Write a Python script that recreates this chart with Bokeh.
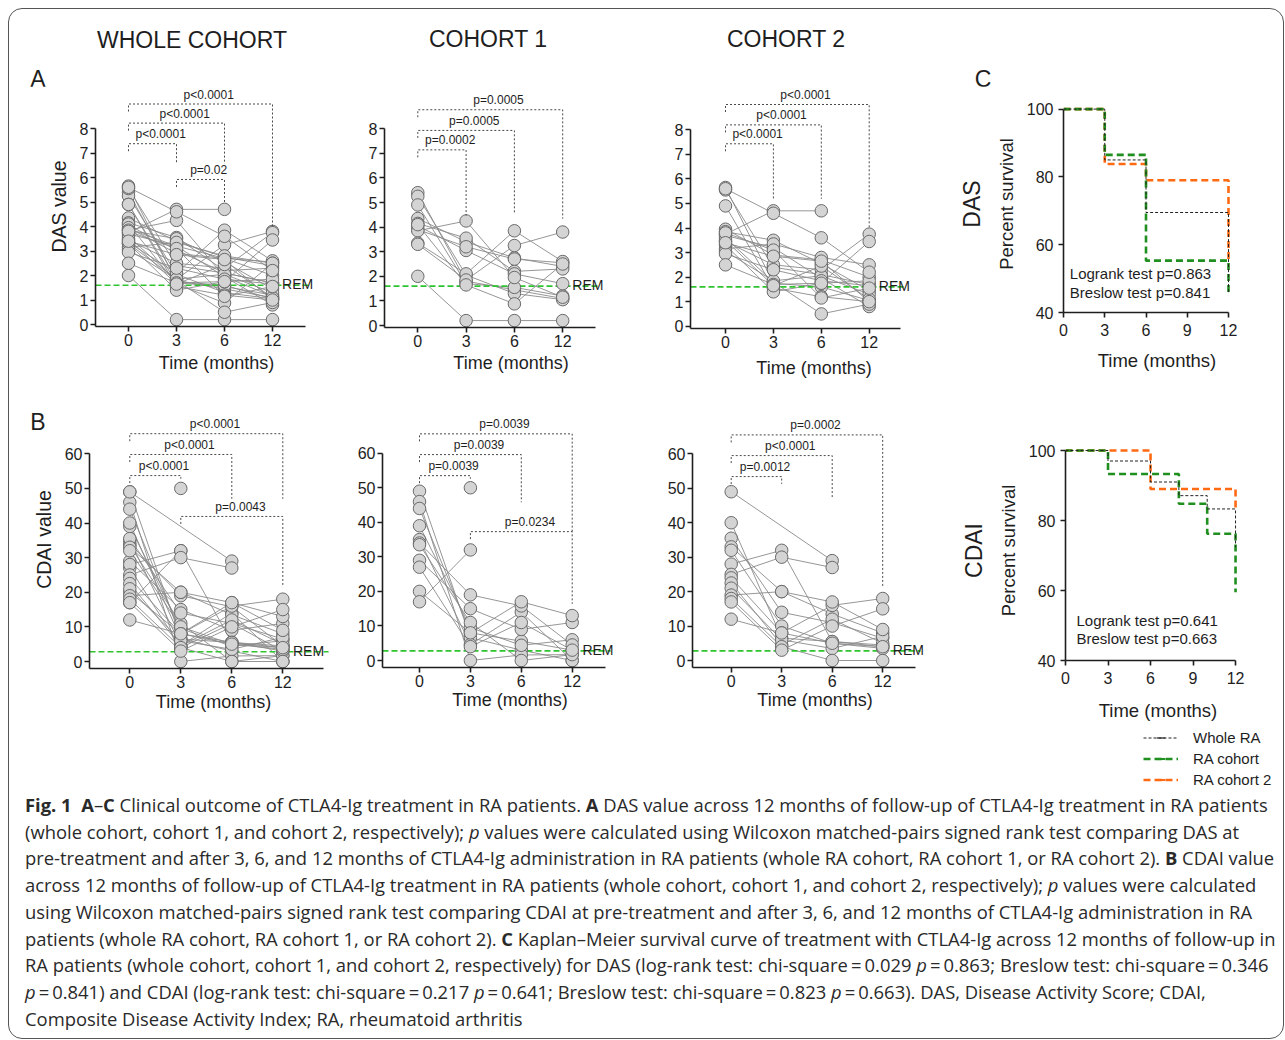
import numpy as np
from bokeh.plotting import figure
from bokeh.models import FixedTicker, Legend, LegendItem, LinearAxis, Div, Spacer
from bokeh.layouts import row, column
from bokeh.embed import file_html
from bokeh.resources import INLINE
from bokeh.core.properties import value

nan = np.nan
FONT = "Liberation Sans"

# ---------------- data ----------------
time_labels = ["0", "3", "6", "12"]

# DAS, cohort 1 (one entry per patient)
das_c1_m0 = [5.40, 5.25, 4.90, 4.35, 4.15, 4.05, 3.90, 3.85, 3.35, 3.30, 2.00, 4.10]
das_c1_m3 = [1.80, 2.05, 1.70, 3.40, 3.55, 3.05, 3.20, 4.25, 2.10, 1.85, 0.20, 1.65]
das_c1_m6 = [1.45, 1.30, 1.55, 2.75, 2.20, 2.10, 2.70, 1.95, 3.85, 3.25, 0.20, 0.88]
das_c1_m12 = [1.10, 1.05, 1.20, 2.40, 2.30, 1.70, 2.55, 1.15, 2.60, 3.80, 0.20, 2.50]

# DAS, cohort 2
das_c2_m0 = [5.65, 5.55, 4.90, 3.95, 3.85, 3.75, 3.70, 3.60, 3.45, 3.30, 3.15, 3.05, 2.95, 2.50, 5.60, 3.50, 3.80, 3.40]
das_c2_m3 = [1.75, 2.40, 1.55, 2.90, 3.50, 4.70, 3.20, 1.80, 2.50, 1.40, 3.35, 1.85, 2.30, 1.70, 4.60, 1.65, 3.10, 2.85]
das_c2_m6 = [1.60, 2.10, 1.20, 2.70, 2.55, 4.70, 1.95, 0.50, 2.30, 1.75, 2.80, 2.05, 1.85, 1.75, 3.60, 2.45, 1.15, 2.65]
das_c2_m12 = [1.05, 1.70, 1.00, 2.00, 1.45, nan, 0.80, 0.90, 3.75, 3.45, 2.50, 1.30, 1.65, 1.85, 2.20, 1.10, 1.55, 1.00]

# CDAI, cohort 1
cdai_c1_m0 = [49, 46, 44, 39, 35, 34, 33.5, 29, 27, 20, 17, nan]
cdai_c1_m3 = [6.6, 0, 8, 9.5, 4.6, 19, 11, 15, 4, 8, 32, 50]
cdai_c1_m6 = [3.0, 1.6, 5.6, 4.4, 14, 15.8, 0, 9, 11, 17, nan, nan]
cdai_c1_m12 = [0, 1.7, 3.0, 6, 0, 4.5, 1.7, 11, 3, 13, nan, nan]

# CDAI, cohort 2
cdai_c2_m0 = [49, 40, 35.5, 33, 32, 28, 25, 24, 22.5, 21, 19, 18, 17, 12]
cdai_c2_m3 = [nan, 6.5, 14, 20, 10, 32, 30, 8, 4.5, 6, 20, 4, 3, 8]
cdai_c2_m6 = [29, 5.5, 11, 13.5, 5, 5.5, 27, 16, 12, 3.5, 17, 0, 10, 5]
cdai_c2_m12 = [nan, 4, 6.5, 8, 3.5, 4.5, nan, 18, 5, 7, 9, 0, 15, 4]

das_c1 = [das_c1_m0, das_c1_m3, das_c1_m6, das_c1_m12]
das_c2 = [das_c2_m0, das_c2_m3, das_c2_m6, das_c2_m12]
das_whole = [a + b for a, b in zip(das_c1, das_c2)]
cdai_c1 = [cdai_c1_m0, cdai_c1_m3, cdai_c1_m6, cdai_c1_m12]
cdai_c2 = [cdai_c2_m0, cdai_c2_m3, cdai_c2_m6, cdai_c2_m12]
cdai_whole = [a + b for a, b in zip(cdai_c1, cdai_c2)]

rem_das = 1.6
rem_cdai = 2.8

# comparisons: (from time index, to time index), p value text
cmp_das_whole = [(0, 1), (0, 2), (0, 3), (1, 2)]
p_das_whole = ["p<0.0001", "p<0.0001", "p<0.0001", "p=0.02"]
cmp_das_c1 = [(0, 1), (0, 2), (0, 3)]
p_das_c1 = ["p=0.0002", "p=0.0005", "p=0.0005"]
cmp_das_c2 = [(0, 1), (0, 2), (0, 3)]
p_das_c2 = ["p<0.0001", "p<0.0001", "p<0.0001"]
cmp_cdai_whole = [(0, 1), (0, 2), (0, 3), (1, 3)]
p_cdai_whole = ["p<0.0001", "p<0.0001", "p<0.0001", "p=0.0043"]
cmp_cdai_c1 = [(0, 1), (0, 2), (0, 3), (1, 3)]
p_cdai_c1 = ["p=0.0039", "p=0.0039", "p=0.0039", "p=0.0234"]
cmp_cdai_c2 = [(0, 1), (0, 2), (0, 3)]
p_cdai_c2 = ["p=0.0012", "p<0.0001", "p=0.0002"]

# Kaplan-Meier curves (percent survival)
km_das_whole_t = [0, 3, 6, 12]
km_das_whole_s = [100, 85.0, 69.5, 46.0]
km_das_c1_t = [0, 3, 6, 12]
km_das_c1_s = [100, 86.5, 55.3, 45.5]
km_das_c2_t = [0, 3, 6, 12]
km_das_c2_s = [100, 83.8, 79.0, 55.5]

km_cdai_whole_t = [0, 3, 6, 8, 10, 12]
km_cdai_whole_s = [100, 97.0, 91.0, 87.1, 83.3, 72.4]
km_cdai_c1_t = [0, 3, 8, 10, 12]
km_cdai_c1_s = [100, 93.3, 84.8, 76.2, 59.5]
km_cdai_c2_t = [0, 6, 12]
km_cdai_c2_s = [100, 89.0, 82.9]

km_names = ["Whole RA", "RA cohort", "RA cohort 2"]
km_das_stats = ["Logrank test p=0.863", "Breslow test p=0.841"]
km_cdai_stats = ["Logrank test p=0.641", "Breslow test p=0.663"]

# ---------------- layout helpers ----------------
COLS = [9, 340, 640, 940, 1283]
Y_HEAD, Y_ROW1, Y_ROW2, Y_LEG, Y_CAP, Y_END = 9, 86, 390, 727, 792, 1038
LEG_X = 1143
INK = "#1e1e1e"
KM_STYLES = [("#222222", 1.0, "3 2"), ("#1f8f1f", 2.6, "7 4"), ("#ff6a13", 2.6, "7 4")]


class Frame:
    def __init__(self, fx0, fx1, ry0, ry1, fl, fr, ft, fb, xpx, xval, dx, ypx, yval, ppu):
        self.fx0, self.fx1, self.ry0, self.ry1 = fx0, fx1, ry0, ry1
        self.fl, self.fr, self.ft, self.fb = round(fl), round(fr), round(ft), round(fb)
        self.xpx, self.xval, self.dx = xpx, xval, dx
        self.ypx, self.yval, self.ppu = ypx, yval, ppu

    def X(self, px):
        return self.xval + (px - self.xpx) / self.dx

    def Y(self, py):
        return self.yval + (self.ypx - py) / self.ppu

    def fig(self):
        p = figure(width=self.fx1 - self.fx0, height=self.ry1 - self.ry0,
                   x_range=(self.X(self.fl), self.X(self.fr)),
                   y_range=(self.Y(self.fb), self.Y(self.ft)),
                   min_border_left=self.fl - self.fx0, min_border_right=self.fx1 - self.fr,
                   min_border_top=self.ft - self.ry0, min_border_bottom=self.ry1 - self.fb,
                   output_backend="svg", toolbar_location=None, title=None)
        p.frame_align = False
        p.outline_line_color = None
        p.grid.visible = False
        p.background_fill_color = "white"
        p.border_fill_color = "white"
        return p


def style_axis(ax, label_size, standoff=2):
    ax.axis_line_width = 1.6
    ax.axis_line_color = INK
    ax.major_tick_line_width = 1.6
    ax.major_tick_line_color = INK
    ax.major_tick_out = 5
    ax.major_tick_in = 0
    ax.minor_tick_line_color = None
    ax.major_label_text_font = FONT
    ax.major_label_text_font_size = "16px"
    ax.major_label_text_color = INK
    ax.major_label_standoff = standoff
    ax.axis_label_text_font = FONT
    ax.axis_label_text_font_style = "normal"
    ax.axis_label_text_font_size = label_size
    ax.axis_label_text_color = INK


def scatter_panel(fr, series, pairs, plabels, tops, ends, rem, ymax, ystep, axis_end_px,
                  ylabel=None, xstand=0):
    p = fr.fig()
    xs_l, ys_l, px, py = [], [], [], []
    for i in range(len(series[0])):
        xx = [k for k in range(4) if not np.isnan(series[k][i])]
        yy = [series[k][i] for k in xx]
        if len(xx) > 1:
            xs_l.append(xx)
            ys_l.append(yy)
        px += xx
        py += yy
    p.multi_line(xs_l, ys_l, line_color="#8a8a8a", line_width=0.9)

    x_end_axis = fr.X(axis_end_px)
    p.line([fr.X(fr.fl), x_end_axis + 0.1], [rem, rem], line_color="#2fc42f",
           line_width=1.6, line_dash="6 3")
    p.text(x=[3.2], y=[rem], text=["REM"], text_font=value(FONT), text_font_size="14px",
           text_color=INK, text_align="left", text_baseline="alphabetic", y_offset=-1)

    p.scatter(px, py, size=12.5, fill_color="#d4d4d4", line_color="#6a6a6a", line_width=1)

    drop = 7.5 / fr.ppu
    bx, by, lx, ly = [], [], [], []
    for (i, j), top, end in zip(pairs, tops, ends):
        bx.append([i, i, j, j])
        by.append([top - drop, top, top, end])
        lx.append((i + j) / 2 + 0.17)
        ly.append(top + 9.5 / fr.ppu)
    p.multi_line(bx, by, line_color="#4a4a4a", line_width=1, line_dash="2 2")
    p.text(x=lx, y=ly, text=plabels, text_font=value(FONT), text_font_size="12px",
           text_color=INK, text_align="center", text_baseline="middle")

    style_axis(p.xaxis[0], "18px")
    style_axis(p.yaxis[0], "19.5px")
    p.xaxis.ticker = FixedTicker(ticks=[0, 1, 2, 3])
    p.xaxis.major_label_overrides = {i: t for i, t in enumerate(time_labels)}
    p.xaxis.bounds = (fr.X(fr.fl), x_end_axis)
    p.xaxis.axis_label = "Time (months)"
    p.xaxis.axis_label_standoff = xstand
    p.yaxis.ticker = FixedTicker(ticks=list(np.arange(0, ymax + ystep / 2, ystep)))
    p.yaxis.bounds = (fr.Y(fr.fb), ymax)
    if ylabel:
        p.yaxis.axis_label = ylabel
        p.yaxis.axis_label_standoff = 7
    return p


# ---------------- DAS row ----------------
fA1 = Frame(COLS[0], COLS[1], Y_ROW1, Y_ROW2, 95, 337, 86, 326, 128, 0, 48.0, 324, 0, 24.5)
a1 = scatter_panel(fA1, das_whole, cmp_das_whole, p_das_whole,
                   [7.38, 8.22, 9.0, 5.92], [6.56, 6.56, 3.97, 5.0],
                   rem_das, 8, 1, 305, ylabel="DAS value", xstand=4)

fA2 = Frame(COLS[1], COLS[2], Y_ROW1, Y_ROW2, 384, 637, 86, 327, 417.3, 0, 48.3, 325, 0, 24.6)
a2 = scatter_panel(fA2, das_c1, cmp_das_c1, p_das_c1,
                   [7.14, 7.93, 8.77], [4.47, 4.54, 4.34],
                   rem_das, 8, 1, 595, xstand=3)

fA3 = Frame(COLS[2], COLS[3], Y_ROW1, Y_ROW2, 690, 937, 86, 328, 725, 0, 47.9, 325.7, 0, 24.55)
a3 = scatter_panel(fA3, das_c2, cmp_das_c2, p_das_c2,
                   [7.43, 8.2, 9.03], [5.19, 5.19, 4.03],
                   rem_das, 8, 1, 900, xstand=7)

# ---------------- CDAI row ----------------
fB1 = Frame(COLS[0], COLS[1], Y_ROW2, Y_CAP, 89, 337, 410, 668, 129.3, 0, 51.0, 661, 0, 3.462)
b1 = scatter_panel(fB1, cdai_whole, cmp_cdai_whole, p_cdai_whole,
                   [53.7, 59.8, 65.8, 41.9], [52.8, 47.0, 47.0, 21.5],
                   rem_cdai, 60, 10, 323, ylabel="CDAI value", xstand=1)

fB2 = Frame(COLS[1], COLS[2], Y_ROW2, Y_CAP, 382, 637, 410, 667, 419, 0, 50.9, 660, 0, 3.455)
b2 = scatter_panel(fB2, cdai_c1, cmp_cdai_c1, p_cdai_c1,
                   [53.5, 59.6, 65.6, 37.3], [52.6, 45.8, 37.1, 16.4],
                   rem_cdai, 60, 10, 605, xstand=0)

fB3 = Frame(COLS[2], COLS[3], Y_ROW2, Y_CAP, 692, 937, 410, 667, 730.7, 0, 50.5, 660, 0, 3.444)
b3 = scatter_panel(fB3, cdai_c2, cmp_cdai_c2, p_cdai_c2,
                   [53.4, 59.5, 65.5], [51.3, 46.9, 21.3],
                   rem_cdai, 60, 10, 915, xstand=0)


# ---------------- Kaplan-Meier ----------------
def km_panel(fr, curves, stats, stat_x, stat_y, side_label, xstand):
    p = fr.fig()
    for (t, s), (col, lw, dash) in list(zip(curves, KM_STYLES))[::-1]:
        p.step(t, s, mode="after", line_color=col, line_width=lw, line_dash=dash)
    p.text(x=[stat_x, stat_x], y=stat_y, text=stats, text_font=value(FONT),
           text_font_size="15px", text_color=INK, text_align="left", text_baseline="middle")
    style_axis(p.xaxis[0], "18.5px", standoff=6)
    style_axis(p.yaxis[0], "18.5px", standoff=5)
    p.xaxis.ticker = FixedTicker(ticks=[0, 3, 6, 9, 12])
    p.xaxis.bounds = (0, 12)
    p.xaxis.axis_label = "Time (months)"
    p.xaxis.axis_label_standoff = xstand
    p.yaxis.ticker = FixedTicker(ticks=[40, 60, 80, 100])
    p.yaxis.bounds = (40, 100)
    p.yaxis.axis_label = "Percent survival"
    p.yaxis.axis_label_standoff = 7
    ax2 = LinearAxis(axis_label=side_label, ticker=FixedTicker(ticks=[]), bounds=(40, 100),
                     axis_line_color=None, major_tick_line_color=None,
                     minor_tick_line_color=None, major_tick_out=0, major_label_standoff=0,
                     major_label_text_font_size="0px", axis_label_standoff=8,
                     axis_label_text_font=FONT, axis_label_text_font_size="23px",
                     axis_label_text_font_style="normal", axis_label_text_color=INK)
    p.add_layout(ax2, "left")
    return p


km_das_curves = [(km_das_whole_t, km_das_whole_s), (km_das_c1_t, km_das_c1_s), (km_das_c2_t, km_das_c2_s)]
km_cdai_curves = [(km_cdai_whole_t, km_cdai_whole_s), (km_cdai_c1_t, km_cdai_c1_s), (km_cdai_c2_t, km_cdai_c2_s)]

fK1 = Frame(COLS[3], COLS[4], Y_ROW1, Y_ROW2, 1063, 1250, 95, 312, 1063, 0, 13.75, 312, 40, 3.39)
km1 = km_panel(fK1, km_das_curves, km_das_stats, fK1.X(1069.3),
               [fK1.Y(273.3), fK1.Y(291.7)], "DAS", xstand=11)

fK2 = Frame(COLS[3], COLS[4], Y_ROW2, Y_LEG, 1065, 1250, 440, 660, 1065, 0, 14.17, 660, 40, 3.5)
km2 = km_panel(fK2, km_cdai_curves, km_cdai_stats, fK2.X(1076),
               [fK2.Y(620), fK2.Y(638.3)], "CDAI", xstand=13)

# legend panel for the Kaplan-Meier curves: same curves and line styles, drawn
# through a 0..1 view window so only the legend keys are visible
leg = figure(width=COLS[4] - LEG_X, height=Y_CAP - Y_LEG, x_range=(0, 1), y_range=(0, 1),
             min_border=0, x_axis_type=None, y_axis_type=None, output_backend="svg",
             toolbar_location=None, title=None)
leg.frame_align = False
leg.outline_line_color = None
leg.grid.visible = False
leg_items = []
for name, (t, s), (c, w, d) in zip(km_names, km_cdai_curves, KM_STYLES):
    r_line = leg.line(t, s, line_color=c, line_width=w, line_dash=d)
    r_tick = leg.scatter(t, s, marker="dash", angle=np.pi / 2, size=7,
                         line_color=c, line_width=max(w * 0.8, 1.2))
    leg_items.append(LegendItem(label=name, renderers=[r_line, r_tick]))
legend = Legend(items=leg_items, location="top_left", padding=0, spacing=0, margin=0,
                label_height=21, glyph_height=21, glyph_width=35, label_standoff=15,
                label_text_font=FONT, label_text_font_size="15px", label_text_color=INK,
                border_line_color=None, background_fill_alpha=0)
leg.add_layout(legend)
leg_row = row(Spacer(width=LEG_X - COLS[3], height=Y_CAP - Y_LEG), leg, spacing=0)


# ---------------- header (titles, panel letters) ----------------
def span(x, y, text, size):
    return (f"<span style=\"position:absolute; left:{x}px; top:{y}px; "
            f"transform:translate(-50%,-50%); font-size:{size}; white-space:nowrap;\">{text}</span>")


head_html = ("<div style=\"position:relative; width:1274px; height:77px; "
             f"font-family:'{FONT}'; color:{INK};\">"
             + span(192 - 9, 38 - 9 + 2, "WHOLE COHORT", "23px")
             + span(488 - 9, 37 - 9 + 2, "COHORT 1", "23px")
             + span(786 - 9, 37 - 9 + 2, "COHORT 2", "23px")
             + span(38 - 9, 77 - 9 + 2, "A", "23px")
             + span(983 - 9, 77 - 9 + 2, "C", "23px")
             + "</div>")
head = Div(text=head_html, width=COLS[4] - COLS[0], height=Y_ROW1 - Y_HEAD, margin=0)

# ---------------- caption ----------------
eq = "\u2009=\u2009"
cap_lines = [
    "<b>Fig. 1</b>&nbsp; <b>A</b>–<b>C</b> Clinical outcome of CTLA4-Ig treatment in RA patients. <b>A</b> DAS value across 12 months of follow-up of CTLA4-Ig treatment in RA patients",
    "(whole cohort, cohort 1, and cohort 2, respectively); <i>p</i> values were calculated using Wilcoxon matched-pairs signed rank test comparing DAS at",
    "pre-treatment and after 3, 6, and 12 months of CTLA4-Ig administration in RA patients (whole RA cohort, RA cohort 1, or RA cohort 2). <b>B</b> CDAI value",
    "across 12 months of follow-up of CTLA4-Ig treatment in RA patients (whole cohort, cohort 1, and cohort 2, respectively); <i>p</i> values were calculated",
    "using Wilcoxon matched-pairs signed rank test comparing CDAI at pre-treatment and after 3, 6, and 12 months of CTLA4-Ig administration in RA",
    "patients (whole RA cohort, RA cohort 1, or RA cohort 2). <b>C</b> Kaplan–Meier survival curve of treatment with CTLA4-Ig across 12 months of follow-up in",
    f"RA patients (whole cohort, cohort 1, and cohort 2, respectively) for DAS (log-rank test: chi-square{eq}0.029 <i>p</i>{eq}0.863; Breslow test: chi-square{eq}0.346",
    f"<i>p</i>{eq}0.841) and CDAI (log-rank test: chi-square{eq}0.217 <i>p</i>{eq}0.641; Breslow test: chi-square{eq}0.823 <i>p</i>{eq}0.663). DAS, Disease Activity Score; CDAI,",
    "Composite Disease Activity Index; RA, rheumatoid arthritis",
]
b_letter = (f"<span style=\"position:absolute; left:{38 - 9}px; top:{420 - Y_CAP + 2}px; "
            f"transform:translate(-50%,-50%); font-family:'{FONT}'; font-size:23px; "
            f"color:{INK}; z-index:20;\">B</span>")
cap_html = ("<div style=\"position:relative; font-family:'Open Sans'; font-size:18.4px; "
            "line-height:26.7px; color:#2a2a2a; white-space:nowrap; padding-left:16px;\">"
            + b_letter + "<br>".join(cap_lines) + "</div>")
cap = Div(text=cap_html, width=COLS[4] - COLS[0], height=Y_END - Y_CAP, margin=0,
          styles={"overflow": "visible", "z-index": "20"},
          stylesheets=[":host { overflow: visible !important; } div { overflow: visible !important; }"])

layout = column(head,
                row(a1, a2, a3, km1, spacing=0),
                row(b1, b2, b3, column(km2, leg_row, spacing=0), spacing=0),
                cap, spacing=0, margin=(8, 0, 0, 8),
                styles={"border": "1px solid #555555", "border-radius": "14px"})

open("out.html", "w").write(file_html(layout, INLINE))
